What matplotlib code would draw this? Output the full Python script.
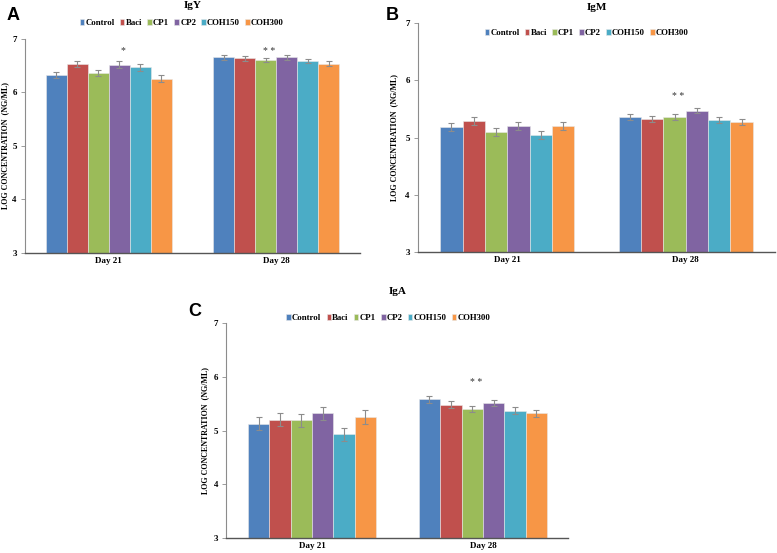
import numpy as np
import matplotlib.pyplot as plt

groups = ['Control', 'Baci', 'CP1', 'CP2', 'COH150', 'COH300']
days = ['Day 21', 'Day 28']
colors = ['#4F81BD', '#C0504D', '#9BBB59', '#8064A2', '#4BACC6', '#F79646']

# rows = groups, columns = days
igy = [[6.33, 6.66], [6.53, 6.64], [6.36, 6.61], [6.52, 6.66], [6.47, 6.59], [6.26, 6.54]]
igy_err = [[0.06, 0.05], [0.06, 0.05], [0.06, 0.04], [0.06, 0.05], [0.06, 0.04], [0.06, 0.04]]
igm = [[5.19, 5.36], [5.29, 5.33], [5.10, 5.36], [5.20, 5.47], [5.04, 5.30], [5.20, 5.27]]
igm_err = [[0.07, 0.05], [0.07, 0.05], [0.07, 0.05], [0.07, 0.05], [0.07, 0.05], [0.07, 0.05]]
iga = [[5.13, 5.58], [5.20, 5.48], [5.19, 5.40], [5.32, 5.51], [4.93, 5.37], [5.25, 5.32]]
iga_err = [[0.12, 0.06], [0.12, 0.06], [0.12, 0.06], [0.12, 0.06], [0.12, 0.06], [0.13, 0.06]]

# significance marks: (day index, group index, y, text)
igy_marks = [(0, 3, 6.78, '*'), (1, 2, 6.76, '* *')]
igm_marks = [(1, 2, 5.72, '* *')]
iga_marks = [(1, 2, 5.90, '* *')]

serif = 'Liberation Serif'
W, H = 777, 553
fig = plt.figure(figsize=(7.77, 5.53), dpi=100)


def panel(rect, vals, errs, marks, title, title_y, letter, letter_xy, leg_xy, ylab_x):
    ax = fig.add_axes(rect)
    x = np.arange(len(days))
    w = 0.125
    handles = []
    for i, g in enumerate(groups):
        pos = x + (i - 2.5) * w
        b = ax.bar(pos, vals[i], w, color=colors[i], edgecolor='#e8e8e8', linewidth=0.4,
                   label=g, zorder=2)
        ax.errorbar(pos, vals[i], yerr=errs[i], fmt='none', ecolor='#8c8c8c',
                    elinewidth=0.8, capsize=2, capthick=0.8, zorder=3)
        handles.append(b)
    for d, gi, y, t in marks:
        ax.text(x[d] + (gi - 2.5) * w + 0.02, y, t, ha='center', va='center',
                fontsize=7, family=serif, color='#333333')
    ax.set_xlim(-0.5, 1.5)
    ax.set_ylim(3, 7)
    ax.set_yticks([3, 4, 5, 6, 7])
    ax.set_xticks(x)
    ax.set_xticklabels(days)
    for lab in ax.get_xticklabels() + ax.get_yticklabels():
        lab.set_family(serif)
        lab.set_fontweight('bold')
        lab.set_fontsize(6.5)
    ax.tick_params(axis='x', length=0, pad=3)
    ax.tick_params(axis='y', length=3, width=0.6, color='#8c8c8c', pad=3)
    ax.spines['top'].set_visible(False)
    ax.spines['right'].set_visible(False)
    ax.spines['left'].set_color('#8c8c8c')
    ax.spines['left'].set_linewidth(0.8)
    ax.spines['bottom'].set_color('#555555')
    ax.spines['bottom'].set_linewidth(1.0)
    ax.set_ylabel('LOG CONCENTRATION  (NG/ML)', family=serif, fontweight='bold',
                  fontsize=5.8)
    # place the y label at the reference pixel column (right edge of rotated text)
    ax.yaxis.set_label_coords((ylab_x / W - rect[0]) / rect[2], 0.5)
    fig.text(rect[0] + rect[2] / 2, title_y, title, ha='center', va='center',
             family=serif, fontweight='bold', fontsize=8)
    fig.text(letter_xy[0], letter_xy[1], letter, ha='left', va='center',
             family='Liberation Sans', fontweight='bold', fontsize=13)
    fig.legend(handles, groups, loc='center', bbox_to_anchor=leg_xy, ncol=6,
               frameon=False, prop={'family': serif, 'weight': 'bold', 'size': 6.3},
               handlelength=0.5, handleheight=0.6, handletextpad=0.15,
               columnspacing=0.6, borderaxespad=0)
    return ax


panel([0.0322, 0.5425, 0.431, 0.387], igy, igy_err, igy_marks, 'IgY', 1 - 6 / H,
      'A', (0.008, 1 - 16 / H), (0.234, 1 - 23 / H), 9)
panel([0.538, 0.5443, 0.4595, 0.414], igm, igm_err, igm_marks, 'IgM', 1 - 7 / H,
      'B', (0.497, 1 - 16 / H), (0.755, 1 - 33 / H), 398)
panel([0.2915, 0.0271, 0.44, 0.3888], iga, iga_err, iga_marks, 'IgA', 1 - 292 / H,
      'C', (0.242, 1 - 312 / H), (0.5, 1 - 318 / H), 209)

fig.savefig('out.png', dpi=100)
